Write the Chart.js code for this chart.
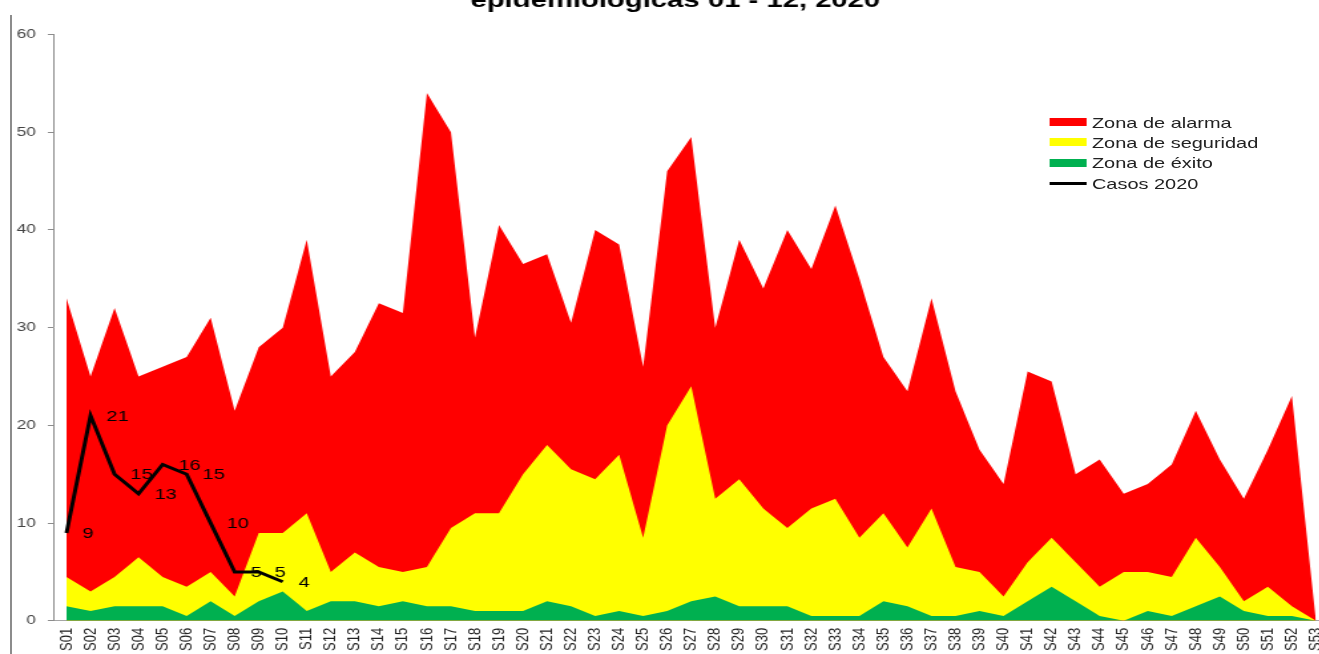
<!DOCTYPE html>
<html>
<head>
<meta charset="utf-8">
<script src="https://cdn.jsdelivr.net/npm/chart.js@4.4.0/dist/chart.umd.min.js"></script>
<style>
  html, body { margin: 0; padding: 0; background: #fff; overflow: hidden; width: 1319px; height: 654px; }
  #frame { position: absolute; left: 10px; top: 15px; width: 2px; height: 660px; background: #8c8c8c; }
  /* the original picture is stretched sideways, so the whole chart is scaled on x */
  #wrap { position: absolute; left: 0; top: -20px; width: 1012px; height: 684px; transform: scaleX(1.33); transform-origin: 0 0; }
  #legend { position: absolute; left: 789px; top: 132px; font: 15px "Liberation Sans", Arial, sans-serif; color: #222; }
  #legend .row { display: flex; align-items: center; height: 20.3px; }
  #legend .sw { width: 28px; margin-right: 4px; }
</style>
</head>
<body>
<div id="frame"></div>
<div id="wrap">
  <canvas id="chart" width="1012" height="684"></canvas>
  <div id="legend"></div>
</div>
<script>
// week categories
const weeks = ['S01','S02','S03','S04','S05','S06','S07','S08','S09','S10',
  'S11','S12','S13','S14','S15','S16','S17','S18','S19','S20',
  'S21','S22','S23','S24','S25','S26','S27','S28','S29','S30',
  'S31','S32','S33','S34','S35','S36','S37','S38','S39','S40',
  'S41','S42','S43','S44','S45','S46','S47','S48','S49','S50',
  'S51','S52','S53'];

// upper limit of each zone
const alarma = [33, 25, 32, 25, 26, 27, 31, 21.5, 28, 30,
  39, 25, 27.5, 32.5, 31.5, 54, 50, 29, 40.5, 36.5,
  37.5, 30.5, 40, 38.5, 26, 46, 49.5, 30, 39, 34,
  40, 36, 42.5, 35, 27, 23.5, 33, 23.5, 17.5, 14,
  25.5, 24.5, 15, 16.5, 13, 14, 16, 21.5, 16.5, 12.5,
  17.5, 23, 0];
const seguridad = [4.5, 3, 4.5, 6.5, 4.5, 3.5, 5, 2.5, 9, 9,
  11, 5, 7, 5.5, 5, 5.5, 9.5, 11, 11, 15,
  18, 15.5, 14.5, 17, 8.5, 20, 24, 12.5, 14.5, 11.5,
  9.5, 11.5, 12.5, 8.5, 11, 7.5, 11.5, 5.5, 5, 2.5,
  6, 8.5, 6, 3.5, 5, 5, 4.5, 8.5, 5.5, 2,
  3.5, 1.5, 0];
const exito = [1.5, 1, 1.5, 1.5, 1.5, 0.5, 2, 0.5, 2, 3,
  1, 2, 2, 1.5, 2, 1.5, 1.5, 1, 1, 1,
  2, 1.5, 0.5, 1, 0.5, 1, 2, 2.5, 1.5, 1.5,
  1.5, 0.5, 0.5, 0.5, 2, 1.5, 0.5, 0.5, 1, 0.5,
  2, 3.5, 2, 0.5, 0, 1, 0.5, 1.5, 2.5, 1,
  0.5, 0.5, 0];
// cases 2020, weeks 01 - 10
const casos = [9, 21, 15, 13, 16, 15, 10, 5, 5, 4];

const yTicks = [0, 10, 20, 30, 40, 50, 60];

const FONT = '"Liberation Sans", Arial, sans-serif';

function areaSet(label, data, color, order) {
    return {
        label: label,
        data: data,
        backgroundColor: color,
        borderColor: 'rgba(0,0,0,0)',
        borderWidth: 0,
        fill: 'origin',
        pointRadius: 0,
        order: order
    };
}

// draws the numbers next to the 2020 line
const valueLabels = {
    id: 'valueLabels',
    afterDatasetsDraw(chart) {
        const meta = chart.getDatasetMeta(3);
        const ctx = chart.ctx;
        ctx.save();
        ctx.font = '15px ' + FONT;
        ctx.fillStyle = '#000';
        ctx.textAlign = 'left';
        ctx.textBaseline = 'middle';
        meta.data.forEach(function(pt, i) {
            if (casos[i] == null) return;
            ctx.fillText(String(casos[i]), pt.x + 12, pt.y + 1);
        });
        ctx.restore();
    }
};

const chart = new Chart(document.getElementById('chart').getContext('2d'), {
    type: 'line',
    data: {
        labels: weeks,
        datasets: [
            areaSet('Zona de alarma', alarma, '#ff0000', 3),
            areaSet('Zona de seguridad', seguridad, '#ffff00', 2),
            areaSet('Zona de éxito', exito, '#00b050', 1),
            {
                label: 'Casos 2020',
                data: casos,
                borderColor: '#000000',
                borderWidth: 3,
                fill: false,
                pointRadius: 0,
                order: 0
            }
        ]
    },
    options: {
        responsive: false,
        animation: false,
        layout: { padding: { left: 3.5, right: 0, top: 0, bottom: 6 } },
        elements: { line: { tension: 0 } },
        plugins: {
            legend: { display: false },
            tooltip: { enabled: false },
            title: {
                display: true,
                text: 'epidemiológicas 01 - 12, 2020',
                color: '#000',
                font: { family: FONT, size: 22, weight: 'bold' },
                padding: { top: 8, bottom: 20 }
            }
        },
        scales: {
            x: {
                offset: true,
                grid: { display: false, drawTicks: false },
                border: { color: '#a6a6a6', width: 1 },
                ticks: {
                    autoSkip: false,
                    minRotation: 90,
                    maxRotation: 90,
                    padding: 7,
                    color: '#222',
                    font: { family: FONT, size: 13 }
                }
            },
            y: {
                min: 0,
                max: 60,
                afterBuildTicks: function(scale) {
                    scale.ticks = yTicks.map(function(v) { return { value: v }; });
                },
                grid: { drawOnChartArea: false, drawTicks: true, tickLength: 5, color: '#8c8c8c' },
                border: { color: '#8c8c8c', width: 1 },
                ticks: {
                    padding: 9,
                    color: '#444',
                    font: { family: FONT, size: 13 }
                }
            }
        }
    },
    plugins: [valueLabels]
});

// legend in the top right corner of the plot
const legend = document.getElementById('legend');
chart.data.datasets.forEach(function(ds) {
    const row = document.createElement('div');
    row.className = 'row';
    const sw = document.createElement('span');
    sw.className = 'sw';
    if (ds.fill) {
        sw.style.height = '8px';
        sw.style.background = ds.backgroundColor;
    } else {
        sw.style.height = '3px';
        sw.style.background = ds.borderColor;
    }
    const txt = document.createElement('span');
    txt.textContent = ds.label;
    row.appendChild(sw);
    row.appendChild(txt);
    legend.appendChild(row);
});
</script>
</body>
</html>
